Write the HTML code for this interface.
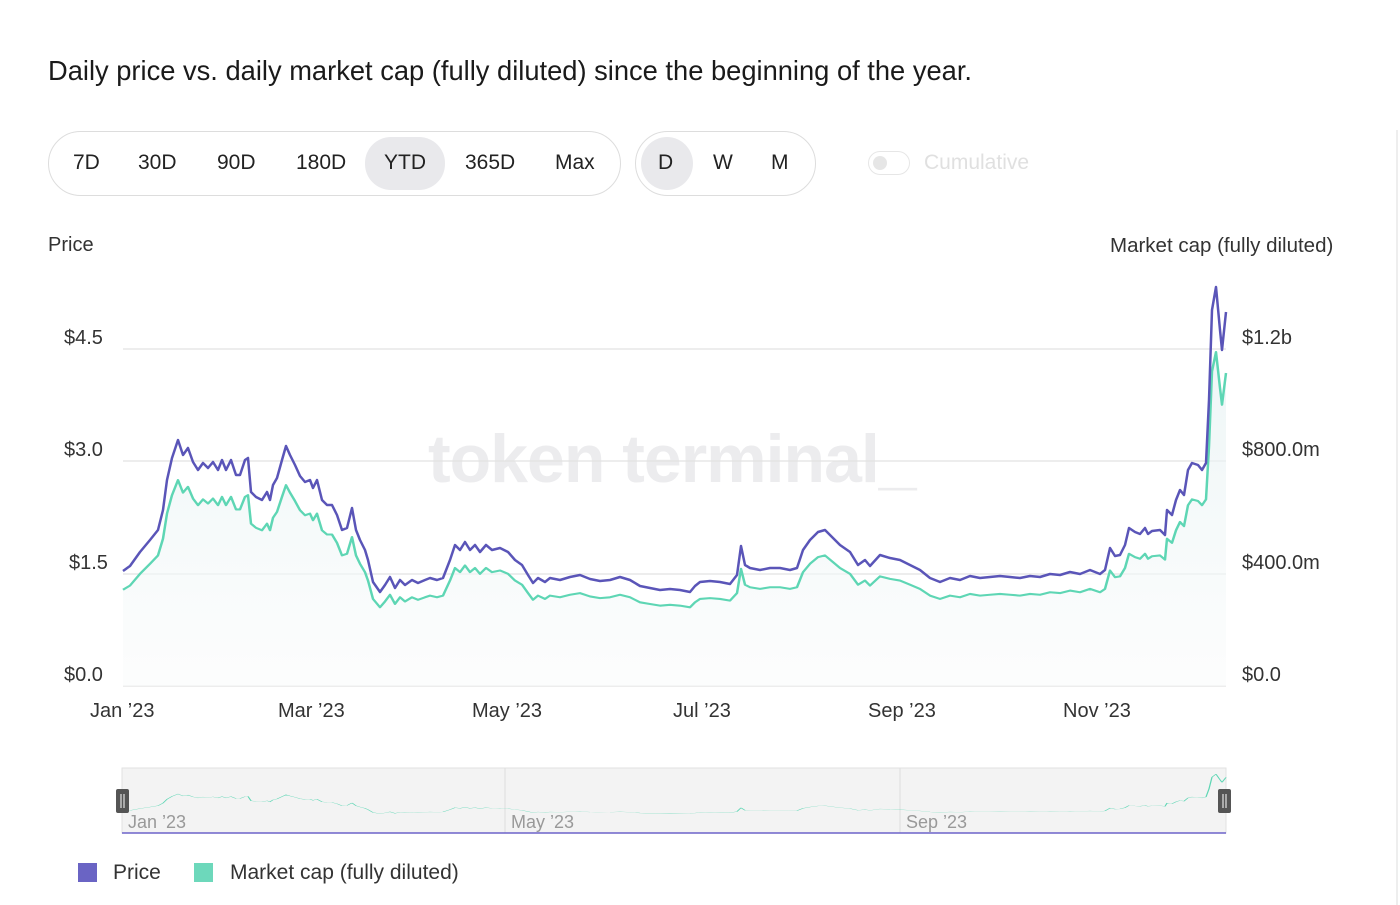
<!DOCTYPE html>
<html><head><style>
body{margin:0;width:1400px;height:905px;background:#fff;font-family:"Liberation Sans",sans-serif;color:#222;position:relative;overflow:hidden}
.t{position:absolute;white-space:nowrap}
.pill{position:absolute;border:1.5px solid #ddd;border-radius:33px;box-sizing:border-box}
.b{position:absolute;font-size:21px;color:#222;top:151px}
.sel{position:absolute;background:#e9e9ec;border-radius:26px}
.ax{font-size:20px;color:#333}
</style></head><body>
<div class="t" style="left:48px;top:55px;font-size:27.3px;color:#1a1a1a">Daily price vs. daily market cap (fully diluted) since the beginning of the year.</div>
<div class="pill" style="left:48px;top:131px;width:573px;height:65px"></div>
<div class="sel" style="left:365px;top:137px;width:80px;height:53px"></div>
<div class="b" style="left:73px">7D</div><div class="b" style="left:138px">30D</div><div class="b" style="left:217px">90D</div><div class="b" style="left:296px">180D</div><div class="b" style="left:384px">YTD</div><div class="b" style="left:465px">365D</div><div class="b" style="left:555px">Max</div>
<div class="pill" style="left:635px;top:131px;width:181px;height:65px"></div>
<div class="sel" style="left:641px;top:137px;width:52px;height:53px;border-radius:50%"></div>
<div class="b" style="left:658px">D</div><div class="b" style="left:713px">W</div><div class="b" style="left:771px">M</div>
<div style="position:absolute;left:868px;top:151px;width:42px;height:24px;border:1.5px solid #e6e6e6;border-radius:13px;box-sizing:border-box"><div style="position:absolute;left:4px;top:4px;width:14px;height:14px;border-radius:50%;background:#e6e6e6"></div></div>
<div class="b" style="left:924px;color:#e0e0e0">Cumulative</div>
<div class="t ax" style="left:48px;top:234px">Price</div>
<div class="t ax" style="left:1110px;top:234px;font-size:20.5px">Market cap (fully diluted)</div>
<div class="t ax" style="left:64px;top:327px">$4.5</div><div class="t ax" style="left:64px;top:439px">$3.0</div><div class="t ax" style="left:69px;top:552px">$1.5</div><div class="t ax" style="left:64px;top:664px">$0.0</div>
<div class="t ax" style="left:1242px;top:327px">$1.2b</div><div class="t ax" style="left:1242px;top:439px">$800.0m</div><div class="t ax" style="left:1242px;top:552px">$400.0m</div><div class="t ax" style="left:1242px;top:664px">$0.0</div>
<div class="t ax" style="left:90px;top:700px">Jan ’23</div><div class="t ax" style="left:278px;top:700px">Mar ’23</div><div class="t ax" style="left:472px;top:700px">May ’23</div><div class="t ax" style="left:673px;top:700px">Jul ’23</div><div class="t ax" style="left:868px;top:700px">Sep ’23</div><div class="t ax" style="left:1063px;top:700px">Nov ’23</div>
<div class="t" style="left:428px;top:420px;font-size:68px;font-weight:bold;color:#ececee;letter-spacing:-1px">token terminal_</div>
<div style="position:absolute;left:1396px;top:130px;width:2px;height:775px;background:#eee"></div>
<svg width="1400" height="905" style="position:absolute;left:0;top:0">
<defs><linearGradient id="g" x1="0" y1="0" x2="0" y2="1"><stop offset="0" stop-color="#e3f0f1"/><stop offset="1" stop-color="#fbfcfc"/></linearGradient>
<polyline id="p" points="123,571 130,566 140,552 150,540 158,530 163,510 167,480 172,458 178,440 183,455 188,448 193,462 198,470 203,463 208,468 213,462 218,470 222,460 226,470 231,460 236,475 240,475 245,460 248,458 251,492 256,497 262,500 267,492 270,500 273,485 277,478 282,460 286,446 290,455 295,465 300,476 305,482 310,480 313,488 317,480 322,500 327,505 332,505 337,515 342,530 347,528 352,508 356,530 360,540 365,550 368,560 373,582 380,592 385,585 390,577 395,588 400,580 405,585 412,580 418,583 425,580 430,578 437,580 443,578 450,560 455,545 460,550 465,542 470,550 475,545 480,552 486,545 492,550 500,548 508,552 515,560 522,565 528,575 533,583 538,578 545,582 550,578 560,580 570,577 580,575 590,579 600,581 610,580 620,577 630,580 640,586 650,588 660,590 670,589 680,590 690,592 695,586 700,582 710,581 720,582 730,584 737,575 741,546 745,565 750,568 760,570 770,568 780,568 790,570 797,568 803,550 810,540 818,532 825,530 833,538 840,545 850,552 858,565 865,560 870,566 880,555 890,558 900,560 910,565 920,570 930,578 940,582 950,578 960,580 970,576 980,578 990,577 1000,576 1010,577 1020,578 1030,576 1040,577 1050,574 1060,575 1070,572 1080,574 1090,570 1100,574 1105,570 1110,548 1115,556 1120,555 1125,545 1129,528 1135,532 1140,534 1145,528 1148,534 1152,531 1160,530 1165,535 1167,510 1172,515 1176,500 1180,490 1184,495 1188,470 1192,463 1198,465 1202,470 1206,463 1209,400 1212,310 1216,287 1220,330 1222,350 1226,312"/></defs>
<g stroke="#e2e2e2" stroke-width="1.2"><line x1="123" y1="349" x2="1226" y2="349"/><line x1="123" y1="461" x2="1226" y2="461"/><line x1="123" y1="574" x2="1226" y2="574"/><line x1="123" y1="686" x2="1226" y2="686"/></g>
<g transform="translate(0,686) scale(1,0.837) translate(0,-686)">
<polygon fill="url(#g)" opacity="0.6" points="123,686 123,571 130,566 140,552 150,540 158,530 163,510 167,480 172,458 178,440 183,455 188,448 193,462 198,470 203,463 208,468 213,462 218,470 222,460 226,470 231,460 236,475 240,475 245,460 248,458 251,492 256,497 262,500 267,492 270,500 273,485 277,478 282,460 286,446 290,455 295,465 300,476 305,482 310,480 313,488 317,480 322,500 327,505 332,505 337,515 342,530 347,528 352,508 356,530 360,540 365,550 368,560 373,582 380,592 385,585 390,577 395,588 400,580 405,585 412,580 418,583 425,580 430,578 437,580 443,578 450,560 455,545 460,550 465,542 470,550 475,545 480,552 486,545 492,550 500,548 508,552 515,560 522,565 528,575 533,583 538,578 545,582 550,578 560,580 570,577 580,575 590,579 600,581 610,580 620,577 630,580 640,586 650,588 660,590 670,589 680,590 690,592 695,586 700,582 710,581 720,582 730,584 737,575 741,546 745,565 750,568 760,570 770,568 780,568 790,570 797,568 803,550 810,540 818,532 825,530 833,538 840,545 850,552 858,565 865,560 870,566 880,555 890,558 900,560 910,565 920,570 930,578 940,582 950,578 960,580 970,576 980,578 990,577 1000,576 1010,577 1020,578 1030,576 1040,577 1050,574 1060,575 1070,572 1080,574 1090,570 1100,574 1105,570 1110,548 1115,556 1120,555 1125,545 1129,528 1135,532 1140,534 1145,528 1148,534 1152,531 1160,530 1165,535 1167,510 1172,515 1176,500 1180,490 1184,495 1188,470 1192,463 1198,465 1202,470 1206,463 1209,400 1212,310 1216,287 1220,330 1222,350 1226,312 1226,686"/>
<use href="#p" fill="none" stroke="#5ed6b4" stroke-width="2.5" vector-effect="non-scaling-stroke" stroke-linejoin="round"/>
</g>
<use href="#p" fill="none" stroke="#5a55b8" stroke-width="2.5" stroke-linejoin="round"/>
<rect x="122" y="768" width="1104" height="65" fill="#f3f3f3" stroke="#e2e2e2"/>
<line x1="505" y1="768" x2="505" y2="833" stroke="#ddd"/><line x1="900" y1="768" x2="900" y2="833" stroke="#ddd"/>
<g transform="translate(0,826) scale(1,0.13) translate(0,-686)"><use href="#p" fill="none" stroke="#5ed6b4" stroke-width="1.3" vector-effect="non-scaling-stroke"/></g>
<line x1="122" y1="833" x2="1226" y2="833" stroke="#6c63c9" stroke-width="1.5"/>
<text x="128" y="828" font-size="18" fill="#999" font-family="Liberation Sans">Jan ’23</text>
<text x="511" y="828" font-size="18" fill="#999" font-family="Liberation Sans">May ’23</text>
<text x="906" y="828" font-size="18" fill="#999" font-family="Liberation Sans">Sep ’23</text>
<rect x="116" y="789" width="13" height="24" rx="2" fill="#555"/><line x1="121" y1="794" x2="121" y2="808" stroke="#fff"/><line x1="124" y1="794" x2="124" y2="808" stroke="#fff"/>
<rect x="1218" y="789" width="13" height="24" rx="2" fill="#555"/><line x1="1223" y1="794" x2="1223" y2="808" stroke="#fff"/><line x1="1226" y1="794" x2="1226" y2="808" stroke="#fff"/>
<rect x="78" y="863" width="19" height="19" fill="#6a64c4"/><rect x="194" y="863" width="19" height="19" fill="#6dd8bb"/>
</svg>
<div class="t ax" style="left:113px;top:861px;font-size:21px">Price</div>
<div class="t ax" style="left:230px;top:861px;font-size:21px">Market cap (fully diluted)</div>
</body></html>
